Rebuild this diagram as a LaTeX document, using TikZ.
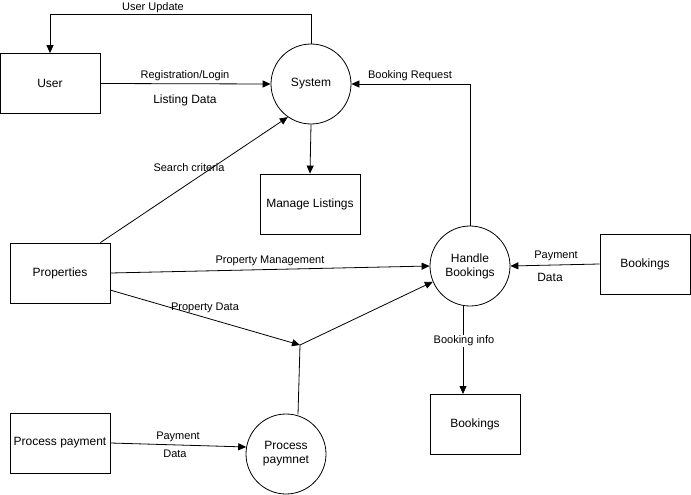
\documentclass[tikz,border=0pt]{standalone}
\usepackage{fontspec}
\setmainfont{Liberation Sans}
\usetikzlibrary{arrows.meta}
\begin{document}
\begin{tikzpicture}[x=1pt,y=-1pt,
  box/.style={draw,line width=0.8pt,minimum width=#1,minimum height=60pt,inner sep=0pt,font=\fontsize{12}{14}\selectfont,align=center},
  proc/.style={draw,circle,line width=0.8pt,minimum size=80pt,inner sep=0pt,font=\fontsize{12}{14}\selectfont,align=center},
  lbl/.style={font=\fontsize{11}{13}\selectfont,inner sep=1pt,yshift=-1pt},
  flow/.style={line width=0.8pt,-{Triangle[width=7pt,length=8pt]}},
  plain/.style={line width=0.8pt}]
\useasboundingbox (0,0) rectangle (691,495);
\node[box=100pt] (user) at (50,83.5) {User};
\node[proc] (sys) at (311,84) {System};
\node[box=100pt] (ml) at (310,204) {Manage Listings};
\node[box=100pt] (prop) at (60,273) {Properties};
\node[proc] (hb) at (470,266) {Handle\\Bookings};
\node[box=90pt] (bk1) at (645,264) {Bookings};
\node[box=90pt] (bk2) at (475,424) {Bookings};
\node[box=100pt] (pp) at (60,443) {Process payment};
\node[proc] (ppc) at (286,454) {Process\\paymnet};
\coordinate (j) at (300,345);
% User update
\draw[flow] (sys.north) -- ++(0,-29) -| (user.north);
\node[lbl] (luu) at (153,7) {User Update};
% Registration
\draw[flow] (user.east) -- (sys.west);
\node[lbl] (lrl) at (185,75) {Registration/Login};
\node[lbl,font=\fontsize{12}{14}\selectfont] (lld) at (185,99) {Listing Data};
% search criteria
\draw[flow] ([xshift=-10pt]prop.north east) -- (sys.235);
\node[lbl] (lsc) at (189,167) {Search criteria};
% system to manage listings
\draw[flow] (sys.south) -- (ml.north);
% Booking request
\draw[flow] (hb.north) |- (sys.east);
\node[lbl] (lbr) at (410,75) {Booking Request};
% property management
\draw[flow] (prop.east) -- (hb.west);
\node[lbl] (lpm) at (270,260) {Property Management};
% property data
\draw[flow] (110,290) -- (j);
\draw[flow] (j) -- (hb.203);
\draw[plain] (ppc.north) ++(12,0.8) -- (j);
\node[lbl] (lpd) at (205,307) {Property Data};
% payment data (lower)
\draw[flow] (pp.east) -- (ppc.170);
\node[lbl] (lp1) at (178,436) {Payment};
\node[lbl] (lp2) at (175,453) {Data};
% payment data (right)
\draw[flow] (bk1.west) -- (hb.east);
\node[lbl] (lp3) at (556,255) {Payment};
\node[lbl,font=\fontsize{12}{14}\selectfont] (lp4) at (550,276) {Data};
% booking info
\draw[flow] (463,305.4) -- (463,394);
\node[lbl,fill=white] (lbi) at (464,340) {Booking info};
\end{tikzpicture}
\end{document}
